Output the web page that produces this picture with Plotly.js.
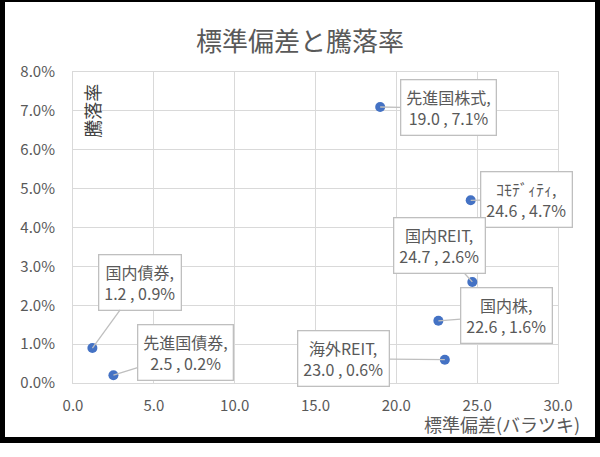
<!DOCTYPE html>
<html>
<head>
<meta charset="utf-8">
<script src="https://cdn.plot.ly/plotly-3.0.1.min.js"></script>
<style>
  body { margin: 0; background: #fff; }
  #frame {
    position: absolute; left: 0; top: 0;
    width: 600px; height: 443px; box-sizing: border-box;
    border-style: solid; border-color: #000;
    border-width: 2px 5px 6px 5px;
  }
</style>
</head>
<body>
<div id="frame"><div id="chart"></div></div>
<script>
var CHART = document.getElementById("chart");

// 資産クラス
var names = ["先進国株式", "ｺﾓﾃﾞｨﾃｨ", "国内REIT", "国内株", "海外REIT", "先進国債券", "国内債券"];
// 標準偏差
var stdev = [19.0, 24.6, 24.7, 22.6, 23.0, 2.5, 1.2];
// 騰落率 (%)
var returns = [7.1, 4.7, 2.6, 1.6, 0.6, 0.2, 0.9];

// label offsets (px) from point to callout box
var offX = [68, 56, -33, 68, -101, 72, 48];
var offY = [1, -1, -36, -5, -1, -23, -66];

var grey = "#595959";
var font = "'Noto Sans CJK JP', 'Noto Sans', sans-serif";

var data = [
    {
        x: stdev,
        y: returns,
        mode: 'markers',
        type: 'scatter',
        marker: { color: '#4472C4', size: 10 },
        hoverinfo: 'skip'
    }
];

var annotations = [];
for (var i = 0; i < names.length; i++) {
    annotations.push({
        x: stdev[i], y: returns[i], xref: 'x', yref: 'y',
        text: names[i] + ",<br>" + stdev[i].toFixed(1) + " , " + returns[i].toFixed(1) + "%",
        showarrow: true, arrowhead: 0, arrowwidth: 1.3, arrowcolor: '#bfbfbf',
        ax: offX[i], ay: offY[i],
        bgcolor: '#ffffff', bordercolor: '#bfbfbf', borderwidth: 1.3, borderpad: 5,
        font: { family: font, size: 16, color: grey }
    });
}
// y axis title inside the plot
annotations.push({
    xref: 'paper', yref: 'paper', x: 0.039, y: 0.875,
    xanchor: 'center', yanchor: 'middle',
    text: '騰落率', textangle: -90, showarrow: false,
    font: { family: font, size: 18, color: '#404040' }
});
// x axis title at the lower right
annotations.push({
    xref: 'paper', yref: 'paper', x: 1.05, y: -0.132,
    xanchor: 'right', yanchor: 'middle',
    text: '標準偏差(バラツキ)', showarrow: false,
    font: { family: font, size: 18, color: grey }
});

var layout = {
    width: 590, height: 435,
    margin: { l: 68, r: 37, t: 70, b: 54 },
    paper_bgcolor: '#ffffff', plot_bgcolor: '#ffffff',
    showlegend: false,
    font: { family: font, color: grey, size: 15 },
    title: {
        text: '標準偏差と騰落率',
        x: 0.5, xanchor: 'center', y: 0.908, yanchor: 'middle',
        font: { family: font, size: 26, color: grey }
    },
    xaxis: {
        range: [0, 30], dtick: 5, tickformat: '.1f',
        showgrid: true, gridcolor: '#d9d9d9', gridwidth: 1,
        showline: true, linecolor: '#d9d9d9', linewidth: 1, mirror: true,
        zeroline: false, ticks: '', ticklabelstandoff: 9,
        tickfont: { family: font, size: 15, color: grey }
    },
    yaxis: {
        range: [0, 8], dtick: 1, tickformat: '.1f', ticksuffix: '%',
        showgrid: true, gridcolor: '#d9d9d9', gridwidth: 1,
        showline: true, linecolor: '#d9d9d9', linewidth: 1, mirror: true,
        zeroline: false, ticks: '', ticklabelstandoff: 14,
        tickfont: { family: font, size: 15, color: grey }
    },
    annotations: annotations
};

Plotly.newPlot(CHART, data, layout, { staticPlot: true });
</script>
</body>
</html>
